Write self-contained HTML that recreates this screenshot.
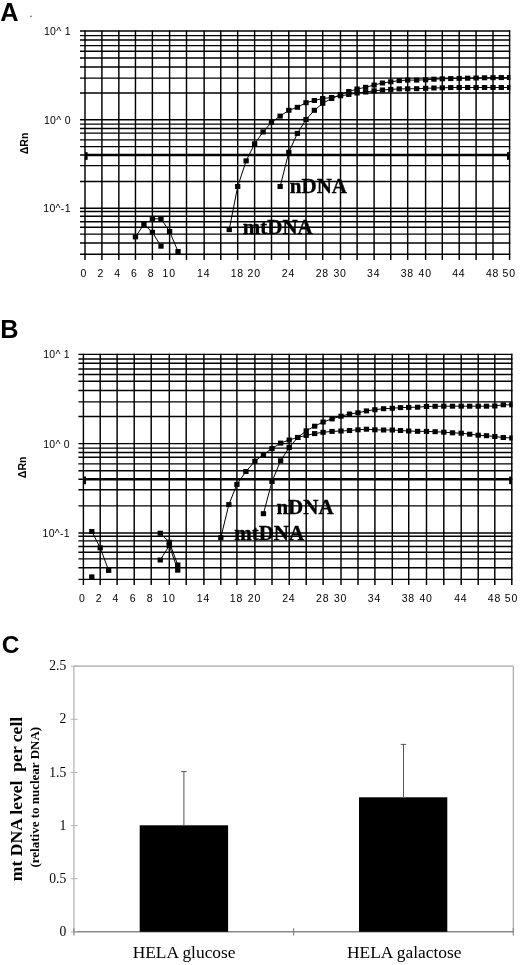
<!DOCTYPE html>
<html><head><meta charset="utf-8"><title>Figure</title>
<style>html,body{margin:0;padding:0;background:#fff;}body{width:520px;height:965px;position:relative;overflow:hidden;}svg{filter:grayscale(1);}</style>
</head><body>
<svg width="520" height="965" viewBox="0 0 520 965" style="position:absolute;left:0;top:0">
<line x1="80" y1="31.05" x2="510.2" y2="31.05" stroke="#000" stroke-width="1.45"/>
<line x1="80" y1="35.6" x2="510.2" y2="35.6" stroke="#000" stroke-width="1.45"/>
<line x1="80" y1="39.97" x2="510.2" y2="39.97" stroke="#000" stroke-width="1.45"/>
<line x1="80" y1="45.6" x2="510.2" y2="45.6" stroke="#000" stroke-width="1.45"/>
<line x1="80" y1="51.3" x2="510.2" y2="51.3" stroke="#000" stroke-width="1.45"/>
<line x1="80" y1="58" x2="510.2" y2="58" stroke="#000" stroke-width="1.45"/>
<line x1="80" y1="66.95" x2="510.2" y2="66.95" stroke="#000" stroke-width="1.45"/>
<line x1="80" y1="78.14" x2="510.2" y2="78.14" stroke="#000" stroke-width="1.45"/>
<line x1="80" y1="92.94" x2="510.2" y2="92.94" stroke="#000" stroke-width="1.45"/>
<line x1="80" y1="119.75" x2="510.2" y2="119.75" stroke="#000" stroke-width="1.45"/>
<line x1="80" y1="124.1" x2="510.2" y2="124.1" stroke="#000" stroke-width="1.45"/>
<line x1="80" y1="128.54" x2="510.2" y2="128.54" stroke="#000" stroke-width="1.45"/>
<line x1="80" y1="133.1" x2="510.2" y2="133.1" stroke="#000" stroke-width="1.45"/>
<line x1="80" y1="139.85" x2="510.2" y2="139.85" stroke="#000" stroke-width="1.45"/>
<line x1="80" y1="146.6" x2="510.2" y2="146.6" stroke="#000" stroke-width="1.45"/>
<line x1="80" y1="154.96" x2="510.2" y2="154.96" stroke="#000" stroke-width="1.45"/>
<line x1="80" y1="165.6" x2="510.2" y2="165.6" stroke="#000" stroke-width="1.45"/>
<line x1="80" y1="181.5" x2="510.2" y2="181.5" stroke="#000" stroke-width="1.45"/>
<line x1="80" y1="208.18" x2="510.2" y2="208.18" stroke="#000" stroke-width="1.45"/>
<line x1="80" y1="211.53" x2="510.2" y2="211.53" stroke="#000" stroke-width="1.45"/>
<line x1="80" y1="216.19" x2="510.2" y2="216.19" stroke="#000" stroke-width="1.45"/>
<line x1="80" y1="221.76" x2="510.2" y2="221.76" stroke="#000" stroke-width="1.45"/>
<line x1="80" y1="227.33" x2="510.2" y2="227.33" stroke="#000" stroke-width="1.45"/>
<line x1="80" y1="234.1" x2="510.2" y2="234.1" stroke="#000" stroke-width="1.45"/>
<line x1="80" y1="243" x2="510.2" y2="243" stroke="#000" stroke-width="1.45"/>
<line x1="80" y1="254.3" x2="510.2" y2="254.3" stroke="#000" stroke-width="1.45"/>
<line x1="85" y1="30.45" x2="85" y2="259.9" stroke="#000" stroke-width="1.45"/>
<line x1="101.9" y1="30.45" x2="101.9" y2="259.9" stroke="#000" stroke-width="1.45"/>
<line x1="118.85" y1="30.45" x2="118.85" y2="259.9" stroke="#000" stroke-width="1.45"/>
<line x1="135.46" y1="30.45" x2="135.46" y2="259.9" stroke="#000" stroke-width="1.45"/>
<line x1="152.38" y1="30.45" x2="152.38" y2="259.9" stroke="#000" stroke-width="1.45"/>
<line x1="169.6" y1="30.45" x2="169.6" y2="259.9" stroke="#000" stroke-width="1.45"/>
<line x1="186.5" y1="30.45" x2="186.5" y2="259.9" stroke="#000" stroke-width="1.45"/>
<line x1="204.15" y1="30.45" x2="204.15" y2="259.9" stroke="#000" stroke-width="1.45"/>
<line x1="220.77" y1="30.45" x2="220.77" y2="259.9" stroke="#000" stroke-width="1.45"/>
<line x1="237.69" y1="30.45" x2="237.69" y2="259.9" stroke="#000" stroke-width="1.45"/>
<line x1="254.6" y1="30.45" x2="254.6" y2="259.9" stroke="#000" stroke-width="1.45"/>
<line x1="271.5" y1="30.45" x2="271.5" y2="259.9" stroke="#000" stroke-width="1.45"/>
<line x1="288.8" y1="30.45" x2="288.8" y2="259.9" stroke="#000" stroke-width="1.45"/>
<line x1="306" y1="30.45" x2="306" y2="259.9" stroke="#000" stroke-width="1.45"/>
<line x1="322.7" y1="30.45" x2="322.7" y2="259.9" stroke="#000" stroke-width="1.45"/>
<line x1="340.5" y1="30.45" x2="340.5" y2="259.9" stroke="#000" stroke-width="1.45"/>
<line x1="357.1" y1="30.45" x2="357.1" y2="259.9" stroke="#000" stroke-width="1.45"/>
<line x1="374.1" y1="30.45" x2="374.1" y2="259.9" stroke="#000" stroke-width="1.45"/>
<line x1="390.77" y1="30.45" x2="390.77" y2="259.9" stroke="#000" stroke-width="1.45"/>
<line x1="407.69" y1="30.45" x2="407.69" y2="259.9" stroke="#000" stroke-width="1.45"/>
<line x1="425.6" y1="30.45" x2="425.6" y2="259.9" stroke="#000" stroke-width="1.45"/>
<line x1="442.3" y1="30.45" x2="442.3" y2="259.9" stroke="#000" stroke-width="1.45"/>
<line x1="459.2" y1="30.45" x2="459.2" y2="259.9" stroke="#000" stroke-width="1.45"/>
<line x1="476.1" y1="30.45" x2="476.1" y2="259.9" stroke="#000" stroke-width="1.45"/>
<line x1="493" y1="30.45" x2="493" y2="259.9" stroke="#000" stroke-width="1.45"/>
<line x1="509.6" y1="30.45" x2="509.6" y2="259.9" stroke="#000" stroke-width="1.45"/>
<line x1="85" y1="154.96" x2="509.6" y2="154.96" stroke="#000" stroke-width="2.6"/>
<rect x="85" y="152.16" width="2.6" height="7.7" fill="#000"/>
<rect x="507" y="152.16" width="2.6" height="7.7" fill="#000"/>
<clipPath id="c31"><rect x="0" y="0" width="510.4" height="965"/></clipPath>
<g clip-path="url(#c31)">
<polyline points="229.23,229.6 237.69,186.5 246.14,160.9 254.6,143.8 263.05,132 271.5,122.3 280.15,116.1 288.8,110.3 297.4,107.3 306,102.7 314.35,100.5 322.7,98.5 331.6,97.5 340.5,95.8 348.8,94.5 357.1,93 365.6,92 374.1,90.8 382.44,90 390.77,89.4 399.23,88.9 407.69,88.8 416.64,88.7 425.6,88.3 433.95,88 442.3,87.8 450.75,87.6 459.2,87.5 467.65,87.5 476.1,87.5 484.55,87.5 493,87.5 501.3,87.5 509.6,87.5" fill="none" stroke="#000" stroke-width="1.0"/>
<rect x="226.58" y="227.1" width="5.3" height="5.0" fill="#000"/>
<rect x="235.04" y="184" width="5.3" height="5.0" fill="#000"/>
<rect x="243.49" y="158.4" width="5.3" height="5.0" fill="#000"/>
<rect x="251.95" y="141.3" width="5.3" height="5.0" fill="#000"/>
<rect x="260.4" y="129.5" width="5.3" height="5.0" fill="#000"/>
<rect x="268.85" y="119.8" width="5.3" height="5.0" fill="#000"/>
<rect x="277.5" y="113.6" width="5.3" height="5.0" fill="#000"/>
<rect x="286.15" y="107.8" width="5.3" height="5.0" fill="#000"/>
<rect x="294.75" y="104.8" width="5.3" height="5.0" fill="#000"/>
<rect x="303.35" y="100.2" width="5.3" height="5.0" fill="#000"/>
<rect x="311.7" y="98" width="5.3" height="5.0" fill="#000"/>
<rect x="320.05" y="96" width="5.3" height="5.0" fill="#000"/>
<rect x="328.95" y="95" width="5.3" height="5.0" fill="#000"/>
<rect x="337.85" y="93.3" width="5.3" height="5.0" fill="#000"/>
<rect x="346.15" y="92" width="5.3" height="5.0" fill="#000"/>
<rect x="354.45" y="90.5" width="5.3" height="5.0" fill="#000"/>
<rect x="362.95" y="89.5" width="5.3" height="5.0" fill="#000"/>
<rect x="371.45" y="88.3" width="5.3" height="5.0" fill="#000"/>
<rect x="379.79" y="87.5" width="5.3" height="5.0" fill="#000"/>
<rect x="388.12" y="86.9" width="5.3" height="5.0" fill="#000"/>
<rect x="396.58" y="86.4" width="5.3" height="5.0" fill="#000"/>
<rect x="405.04" y="86.3" width="5.3" height="5.0" fill="#000"/>
<rect x="414" y="86.2" width="5.3" height="5.0" fill="#000"/>
<rect x="422.95" y="85.8" width="5.3" height="5.0" fill="#000"/>
<rect x="431.3" y="85.5" width="5.3" height="5.0" fill="#000"/>
<rect x="439.65" y="85.3" width="5.3" height="5.0" fill="#000"/>
<rect x="448.1" y="85.1" width="5.3" height="5.0" fill="#000"/>
<rect x="456.55" y="85" width="5.3" height="5.0" fill="#000"/>
<rect x="465" y="85" width="5.3" height="5.0" fill="#000"/>
<rect x="473.45" y="85" width="5.3" height="5.0" fill="#000"/>
<rect x="481.9" y="85" width="5.3" height="5.0" fill="#000"/>
<rect x="490.35" y="85" width="5.3" height="5.0" fill="#000"/>
<rect x="498.65" y="85" width="5.3" height="5.0" fill="#000"/>
<rect x="506.95" y="85" width="5.3" height="5.0" fill="#000"/>
<polyline points="280.15,186.5 288.8,152.3 297.4,133.4 306,119.5 314.35,110.3 322.7,103.3 331.6,98.5 340.5,94.5 348.8,91.5 357.1,89 365.6,87.3 374.1,85 382.44,83 390.77,81.8 399.23,80.6 407.69,80.1 416.64,80.1 425.6,79.8 433.95,79.2 442.3,78.8 450.75,78.6 459.2,78.4 467.65,78.2 476.1,78 484.55,77.8 493,77.7 501.3,77.6 509.6,77.5" fill="none" stroke="#000" stroke-width="1.0"/>
<rect x="277.5" y="184" width="5.3" height="5.0" fill="#000"/>
<rect x="286.15" y="149.8" width="5.3" height="5.0" fill="#000"/>
<rect x="294.75" y="130.9" width="5.3" height="5.0" fill="#000"/>
<rect x="303.35" y="117" width="5.3" height="5.0" fill="#000"/>
<rect x="311.7" y="107.8" width="5.3" height="5.0" fill="#000"/>
<rect x="320.05" y="100.8" width="5.3" height="5.0" fill="#000"/>
<rect x="328.95" y="96" width="5.3" height="5.0" fill="#000"/>
<rect x="337.85" y="92" width="5.3" height="5.0" fill="#000"/>
<rect x="346.15" y="89" width="5.3" height="5.0" fill="#000"/>
<rect x="354.45" y="86.5" width="5.3" height="5.0" fill="#000"/>
<rect x="362.95" y="84.8" width="5.3" height="5.0" fill="#000"/>
<rect x="371.45" y="82.5" width="5.3" height="5.0" fill="#000"/>
<rect x="379.79" y="80.5" width="5.3" height="5.0" fill="#000"/>
<rect x="388.12" y="79.3" width="5.3" height="5.0" fill="#000"/>
<rect x="396.58" y="78.1" width="5.3" height="5.0" fill="#000"/>
<rect x="405.04" y="77.6" width="5.3" height="5.0" fill="#000"/>
<rect x="414" y="77.6" width="5.3" height="5.0" fill="#000"/>
<rect x="422.95" y="77.3" width="5.3" height="5.0" fill="#000"/>
<rect x="431.3" y="76.7" width="5.3" height="5.0" fill="#000"/>
<rect x="439.65" y="76.3" width="5.3" height="5.0" fill="#000"/>
<rect x="448.1" y="76.1" width="5.3" height="5.0" fill="#000"/>
<rect x="456.55" y="75.9" width="5.3" height="5.0" fill="#000"/>
<rect x="465" y="75.7" width="5.3" height="5.0" fill="#000"/>
<rect x="473.45" y="75.5" width="5.3" height="5.0" fill="#000"/>
<rect x="481.9" y="75.3" width="5.3" height="5.0" fill="#000"/>
<rect x="490.35" y="75.2" width="5.3" height="5.0" fill="#000"/>
<rect x="498.65" y="75.1" width="5.3" height="5.0" fill="#000"/>
<rect x="506.95" y="75" width="5.3" height="5.0" fill="#000"/>
<polyline points="135.46,236.9 143.92,224.3 152.38,232.3 160.99,246.2" fill="none" stroke="#000" stroke-width="1.0"/>
<rect x="132.81" y="234.4" width="5.3" height="5.0" fill="#000"/>
<rect x="141.27" y="221.8" width="5.3" height="5.0" fill="#000"/>
<rect x="149.73" y="229.8" width="5.3" height="5.0" fill="#000"/>
<rect x="158.34" y="243.7" width="5.3" height="5.0" fill="#000"/>
<polyline points="152.38,218.8 160.99,218.8 169.6,231.5 178.05,251.5" fill="none" stroke="#000" stroke-width="1.0"/>
<rect x="149.73" y="216.3" width="5.3" height="5.0" fill="#000"/>
<rect x="158.34" y="216.3" width="5.3" height="5.0" fill="#000"/>
<rect x="166.95" y="229" width="5.3" height="5.0" fill="#000"/>
<rect x="175.4" y="249" width="5.3" height="5.0" fill="#000"/>
</g>
<text x="70.8" y="34.95" font-family='"Liberation Sans", sans-serif' font-size="10.5" letter-spacing="0.3" text-anchor="end">10^ 1</text>
<text x="70.8" y="123.65" font-family='"Liberation Sans", sans-serif' font-size="10.5" letter-spacing="0.3" text-anchor="end">10^ 0</text>
<text x="70.8" y="212.08" font-family='"Liberation Sans", sans-serif' font-size="10.5" letter-spacing="0.3" text-anchor="end">10^-1</text>
<text x="83.4" y="277.3" font-family='"Liberation Sans", sans-serif' font-size="10.5" letter-spacing="0" text-anchor="middle">0</text>
<text x="100.3" y="277.3" font-family='"Liberation Sans", sans-serif' font-size="10.5" letter-spacing="0" text-anchor="middle">2</text>
<text x="117.25" y="277.3" font-family='"Liberation Sans", sans-serif' font-size="10.5" letter-spacing="0" text-anchor="middle">4</text>
<text x="133.86" y="277.3" font-family='"Liberation Sans", sans-serif' font-size="10.5" letter-spacing="0" text-anchor="middle">6</text>
<text x="150.78" y="277.3" font-family='"Liberation Sans", sans-serif' font-size="10.5" letter-spacing="0" text-anchor="middle">8</text>
<text x="169.2" y="277.3" font-family='"Liberation Sans", sans-serif' font-size="10.5" letter-spacing="0.8" text-anchor="middle">10</text>
<text x="203.75" y="277.3" font-family='"Liberation Sans", sans-serif' font-size="10.5" letter-spacing="0.8" text-anchor="middle">14</text>
<text x="237.29" y="277.3" font-family='"Liberation Sans", sans-serif' font-size="10.5" letter-spacing="0.8" text-anchor="middle">18</text>
<text x="254.2" y="277.3" font-family='"Liberation Sans", sans-serif' font-size="10.5" letter-spacing="0.8" text-anchor="middle">20</text>
<text x="288.4" y="277.3" font-family='"Liberation Sans", sans-serif' font-size="10.5" letter-spacing="0.8" text-anchor="middle">24</text>
<text x="322.3" y="277.3" font-family='"Liberation Sans", sans-serif' font-size="10.5" letter-spacing="0.8" text-anchor="middle">28</text>
<text x="340.1" y="277.3" font-family='"Liberation Sans", sans-serif' font-size="10.5" letter-spacing="0.8" text-anchor="middle">30</text>
<text x="373.7" y="277.3" font-family='"Liberation Sans", sans-serif' font-size="10.5" letter-spacing="0.8" text-anchor="middle">34</text>
<text x="407.29" y="277.3" font-family='"Liberation Sans", sans-serif' font-size="10.5" letter-spacing="0.8" text-anchor="middle">38</text>
<text x="425.2" y="277.3" font-family='"Liberation Sans", sans-serif' font-size="10.5" letter-spacing="0.8" text-anchor="middle">40</text>
<text x="458.8" y="277.3" font-family='"Liberation Sans", sans-serif' font-size="10.5" letter-spacing="0.8" text-anchor="middle">44</text>
<text x="492.6" y="277.3" font-family='"Liberation Sans", sans-serif' font-size="10.5" letter-spacing="0.8" text-anchor="middle">48</text>
<text x="509.2" y="277.3" font-family='"Liberation Sans", sans-serif' font-size="10.5" letter-spacing="0.8" text-anchor="middle">50</text>
<text x="0.3" y="20.6" font-family='"Liberation Sans", sans-serif' font-weight="bold" font-size="25.3">A</text>
<text transform="translate(24.1,143.4) rotate(-90)" x="0" y="3.4" font-family='"Liberation Sans", sans-serif' font-weight="bold" font-size="10.6" text-anchor="middle">&#916;Rn</text>
<circle cx="31" cy="16.4" r="0.8" fill="#666"/>
<text x="289.8" y="192.6" font-family='"Liberation Serif", serif' font-weight="bold" font-size="21" stroke="#000" stroke-width="0.35">nDNA</text>
<text x="242.8" y="233.9" font-family='"Liberation Serif", serif' font-weight="bold" font-size="21" stroke="#000" stroke-width="0.35">mtDNA</text>
<line x1="78.4" y1="354.35" x2="512.4" y2="354.35" stroke="#000" stroke-width="1.45"/>
<line x1="78.4" y1="358.92" x2="512.4" y2="358.92" stroke="#000" stroke-width="1.45"/>
<line x1="78.4" y1="363.27" x2="512.4" y2="363.27" stroke="#000" stroke-width="1.45"/>
<line x1="78.4" y1="368.93" x2="512.4" y2="368.93" stroke="#000" stroke-width="1.45"/>
<line x1="78.4" y1="374.59" x2="512.4" y2="374.59" stroke="#000" stroke-width="1.45"/>
<line x1="78.4" y1="381.33" x2="512.4" y2="381.33" stroke="#000" stroke-width="1.45"/>
<line x1="78.4" y1="390.5" x2="512.4" y2="390.5" stroke="#000" stroke-width="1.45"/>
<line x1="78.4" y1="401.88" x2="512.4" y2="401.88" stroke="#000" stroke-width="1.45"/>
<line x1="78.4" y1="416.46" x2="512.4" y2="416.46" stroke="#000" stroke-width="1.45"/>
<line x1="78.4" y1="443.62" x2="512.4" y2="443.62" stroke="#000" stroke-width="1.45"/>
<line x1="78.4" y1="448.1" x2="512.4" y2="448.1" stroke="#000" stroke-width="1.45"/>
<line x1="78.4" y1="452.54" x2="512.4" y2="452.54" stroke="#000" stroke-width="1.45"/>
<line x1="78.4" y1="457.32" x2="512.4" y2="457.32" stroke="#000" stroke-width="1.45"/>
<line x1="78.4" y1="463.85" x2="512.4" y2="463.85" stroke="#000" stroke-width="1.45"/>
<line x1="78.4" y1="470.81" x2="512.4" y2="470.81" stroke="#000" stroke-width="1.45"/>
<line x1="78.4" y1="479.31" x2="512.4" y2="479.31" stroke="#000" stroke-width="1.45"/>
<line x1="78.4" y1="489.84" x2="512.4" y2="489.84" stroke="#000" stroke-width="1.45"/>
<line x1="78.4" y1="505.86" x2="512.4" y2="505.86" stroke="#000" stroke-width="1.45"/>
<line x1="78.4" y1="532.92" x2="512.4" y2="532.92" stroke="#000" stroke-width="1.45"/>
<line x1="78.4" y1="536.27" x2="512.4" y2="536.27" stroke="#000" stroke-width="1.45"/>
<line x1="78.4" y1="540.88" x2="512.4" y2="540.88" stroke="#000" stroke-width="1.45"/>
<line x1="78.4" y1="546.41" x2="512.4" y2="546.41" stroke="#000" stroke-width="1.45"/>
<line x1="78.4" y1="552.2" x2="512.4" y2="552.2" stroke="#000" stroke-width="1.45"/>
<line x1="78.4" y1="558.85" x2="512.4" y2="558.85" stroke="#000" stroke-width="1.45"/>
<line x1="78.4" y1="567.84" x2="512.4" y2="567.84" stroke="#000" stroke-width="1.45"/>
<line x1="78.4" y1="579.37" x2="512.4" y2="579.37" stroke="#000" stroke-width="1.45"/>
<line x1="83.4" y1="353.75" x2="83.4" y2="584.97" stroke="#000" stroke-width="1.45"/>
<line x1="100.2" y1="353.75" x2="100.2" y2="584.97" stroke="#000" stroke-width="1.45"/>
<line x1="117.1" y1="353.75" x2="117.1" y2="584.97" stroke="#000" stroke-width="1.45"/>
<line x1="134.2" y1="353.75" x2="134.2" y2="584.97" stroke="#000" stroke-width="1.45"/>
<line x1="151.2" y1="353.75" x2="151.2" y2="584.97" stroke="#000" stroke-width="1.45"/>
<line x1="169.3" y1="353.75" x2="169.3" y2="584.97" stroke="#000" stroke-width="1.45"/>
<line x1="186.2" y1="353.75" x2="186.2" y2="584.97" stroke="#000" stroke-width="1.45"/>
<line x1="203.9" y1="353.75" x2="203.9" y2="584.97" stroke="#000" stroke-width="1.45"/>
<line x1="220.8" y1="353.75" x2="220.8" y2="584.97" stroke="#000" stroke-width="1.45"/>
<line x1="236.9" y1="353.75" x2="236.9" y2="584.97" stroke="#000" stroke-width="1.45"/>
<line x1="254.9" y1="353.75" x2="254.9" y2="584.97" stroke="#000" stroke-width="1.45"/>
<line x1="272" y1="353.75" x2="272" y2="584.97" stroke="#000" stroke-width="1.45"/>
<line x1="289.2" y1="353.75" x2="289.2" y2="584.97" stroke="#000" stroke-width="1.45"/>
<line x1="306.2" y1="353.75" x2="306.2" y2="584.97" stroke="#000" stroke-width="1.45"/>
<line x1="323.1" y1="353.75" x2="323.1" y2="584.97" stroke="#000" stroke-width="1.45"/>
<line x1="341" y1="353.75" x2="341" y2="584.97" stroke="#000" stroke-width="1.45"/>
<line x1="358" y1="353.75" x2="358" y2="584.97" stroke="#000" stroke-width="1.45"/>
<line x1="374.9" y1="353.75" x2="374.9" y2="584.97" stroke="#000" stroke-width="1.45"/>
<line x1="392.3" y1="353.75" x2="392.3" y2="584.97" stroke="#000" stroke-width="1.45"/>
<line x1="408.7" y1="353.75" x2="408.7" y2="584.97" stroke="#000" stroke-width="1.45"/>
<line x1="426.5" y1="353.75" x2="426.5" y2="584.97" stroke="#000" stroke-width="1.45"/>
<line x1="443.8" y1="353.75" x2="443.8" y2="584.97" stroke="#000" stroke-width="1.45"/>
<line x1="461.2" y1="353.75" x2="461.2" y2="584.97" stroke="#000" stroke-width="1.45"/>
<line x1="478.2" y1="353.75" x2="478.2" y2="584.97" stroke="#000" stroke-width="1.45"/>
<line x1="494.8" y1="353.75" x2="494.8" y2="584.97" stroke="#000" stroke-width="1.45"/>
<line x1="511.8" y1="353.75" x2="511.8" y2="584.97" stroke="#000" stroke-width="1.45"/>
<line x1="83.4" y1="479.31" x2="511.8" y2="479.31" stroke="#000" stroke-width="2.6"/>
<rect x="83.4" y="476.51" width="2.6" height="7.7" fill="#000"/>
<rect x="509.2" y="476.51" width="2.6" height="7.7" fill="#000"/>
<clipPath id="c354"><rect x="0" y="0" width="512.6" height="965"/></clipPath>
<g clip-path="url(#c354)">
<polyline points="220.8,537.7 228.85,504.6 236.9,484.4 245.9,471.5 254.9,461.3 263.45,454.6 272,448.5 280.6,443.1 289.2,440 297.7,437.4 306.2,435.4 314.65,433.6 323.1,432.3 332.05,431.4 341,431 349.5,430.5 358,429.8 366.45,429.2 374.9,429.8 383.6,430 392.3,430 400.5,430.5 408.7,431 417.6,431.3 426.5,431.4 435.15,431.7 443.8,432.2 452.5,432.8 461.2,433.2 469.7,434.2 478.2,435.2 486.5,435.7 494.8,436.5 503.3,437.5 511.8,438" fill="none" stroke="#000" stroke-width="1.0"/>
<rect x="218.15" y="535.2" width="5.3" height="5.0" fill="#000"/>
<rect x="226.2" y="502.1" width="5.3" height="5.0" fill="#000"/>
<rect x="234.25" y="481.9" width="5.3" height="5.0" fill="#000"/>
<rect x="243.25" y="469" width="5.3" height="5.0" fill="#000"/>
<rect x="252.25" y="458.8" width="5.3" height="5.0" fill="#000"/>
<rect x="260.8" y="452.1" width="5.3" height="5.0" fill="#000"/>
<rect x="269.35" y="446" width="5.3" height="5.0" fill="#000"/>
<rect x="277.95" y="440.6" width="5.3" height="5.0" fill="#000"/>
<rect x="286.55" y="437.5" width="5.3" height="5.0" fill="#000"/>
<rect x="295.05" y="434.9" width="5.3" height="5.0" fill="#000"/>
<rect x="303.55" y="432.9" width="5.3" height="5.0" fill="#000"/>
<rect x="312" y="431.1" width="5.3" height="5.0" fill="#000"/>
<rect x="320.45" y="429.8" width="5.3" height="5.0" fill="#000"/>
<rect x="329.4" y="428.9" width="5.3" height="5.0" fill="#000"/>
<rect x="338.35" y="428.5" width="5.3" height="5.0" fill="#000"/>
<rect x="346.85" y="428" width="5.3" height="5.0" fill="#000"/>
<rect x="355.35" y="427.3" width="5.3" height="5.0" fill="#000"/>
<rect x="363.8" y="426.7" width="5.3" height="5.0" fill="#000"/>
<rect x="372.25" y="427.3" width="5.3" height="5.0" fill="#000"/>
<rect x="380.95" y="427.5" width="5.3" height="5.0" fill="#000"/>
<rect x="389.65" y="427.5" width="5.3" height="5.0" fill="#000"/>
<rect x="397.85" y="428" width="5.3" height="5.0" fill="#000"/>
<rect x="406.05" y="428.5" width="5.3" height="5.0" fill="#000"/>
<rect x="414.95" y="428.8" width="5.3" height="5.0" fill="#000"/>
<rect x="423.85" y="428.9" width="5.3" height="5.0" fill="#000"/>
<rect x="432.5" y="429.2" width="5.3" height="5.0" fill="#000"/>
<rect x="441.15" y="429.7" width="5.3" height="5.0" fill="#000"/>
<rect x="449.85" y="430.3" width="5.3" height="5.0" fill="#000"/>
<rect x="458.55" y="430.7" width="5.3" height="5.0" fill="#000"/>
<rect x="467.05" y="431.7" width="5.3" height="5.0" fill="#000"/>
<rect x="475.55" y="432.7" width="5.3" height="5.0" fill="#000"/>
<rect x="483.85" y="433.2" width="5.3" height="5.0" fill="#000"/>
<rect x="492.15" y="434" width="5.3" height="5.0" fill="#000"/>
<rect x="500.65" y="435" width="5.3" height="5.0" fill="#000"/>
<rect x="509.15" y="435.5" width="5.3" height="5.0" fill="#000"/>
<polyline points="263.45,513.7 272,481.5 280.6,460.8 289.2,447.5 297.7,437.5 306.2,430.8 314.65,426.2 323.1,422 332.05,418.9 341,416.2 349.5,414 358,412.8 366.45,410.9 374.9,409.7 383.6,408.7 392.3,408.3 400.5,407.6 408.7,407.4 417.6,407.2 426.5,406.5 435.15,406.3 443.8,406.2 452.5,406.2 461.2,406.2 469.7,406.2 478.2,406.2 486.5,406.2 494.8,406 503.3,404.8 511.8,404.8" fill="none" stroke="#000" stroke-width="1.0"/>
<rect x="260.8" y="511.2" width="5.3" height="5.0" fill="#000"/>
<rect x="269.35" y="479" width="5.3" height="5.0" fill="#000"/>
<rect x="277.95" y="458.3" width="5.3" height="5.0" fill="#000"/>
<rect x="286.55" y="445" width="5.3" height="5.0" fill="#000"/>
<rect x="295.05" y="435" width="5.3" height="5.0" fill="#000"/>
<rect x="303.55" y="428.3" width="5.3" height="5.0" fill="#000"/>
<rect x="312" y="423.7" width="5.3" height="5.0" fill="#000"/>
<rect x="320.45" y="419.5" width="5.3" height="5.0" fill="#000"/>
<rect x="329.4" y="416.4" width="5.3" height="5.0" fill="#000"/>
<rect x="338.35" y="413.7" width="5.3" height="5.0" fill="#000"/>
<rect x="346.85" y="411.5" width="5.3" height="5.0" fill="#000"/>
<rect x="355.35" y="410.3" width="5.3" height="5.0" fill="#000"/>
<rect x="363.8" y="408.4" width="5.3" height="5.0" fill="#000"/>
<rect x="372.25" y="407.2" width="5.3" height="5.0" fill="#000"/>
<rect x="380.95" y="406.2" width="5.3" height="5.0" fill="#000"/>
<rect x="389.65" y="405.8" width="5.3" height="5.0" fill="#000"/>
<rect x="397.85" y="405.1" width="5.3" height="5.0" fill="#000"/>
<rect x="406.05" y="404.9" width="5.3" height="5.0" fill="#000"/>
<rect x="414.95" y="404.7" width="5.3" height="5.0" fill="#000"/>
<rect x="423.85" y="404" width="5.3" height="5.0" fill="#000"/>
<rect x="432.5" y="403.8" width="5.3" height="5.0" fill="#000"/>
<rect x="441.15" y="403.7" width="5.3" height="5.0" fill="#000"/>
<rect x="449.85" y="403.7" width="5.3" height="5.0" fill="#000"/>
<rect x="458.55" y="403.7" width="5.3" height="5.0" fill="#000"/>
<rect x="467.05" y="403.7" width="5.3" height="5.0" fill="#000"/>
<rect x="475.55" y="403.7" width="5.3" height="5.0" fill="#000"/>
<rect x="483.85" y="403.7" width="5.3" height="5.0" fill="#000"/>
<rect x="492.15" y="403.5" width="5.3" height="5.0" fill="#000"/>
<rect x="500.65" y="402.3" width="5.3" height="5.0" fill="#000"/>
<rect x="509.15" y="402.3" width="5.3" height="5.0" fill="#000"/>
<polyline points="91.8,531.5 100.2,547.8 108.65,570.4" fill="none" stroke="#000" stroke-width="1.0"/>
<rect x="89.15" y="529" width="5.3" height="5.0" fill="#000"/>
<rect x="97.55" y="545.3" width="5.3" height="5.0" fill="#000"/>
<rect x="106" y="567.9" width="5.3" height="5.0" fill="#000"/>
<polyline points="91.8,576.9" fill="none" stroke="#000" stroke-width="1.0"/>
<rect x="89.15" y="574.4" width="5.3" height="5.0" fill="#000"/>
<polyline points="160.25,533.2 169.3,542.2 177.75,565" fill="none" stroke="#000" stroke-width="1.0"/>
<rect x="157.6" y="530.7" width="5.3" height="5.0" fill="#000"/>
<rect x="166.65" y="539.7" width="5.3" height="5.0" fill="#000"/>
<rect x="175.1" y="562.5" width="5.3" height="5.0" fill="#000"/>
<polyline points="160.25,560 169.3,545.5 177.75,570.2" fill="none" stroke="#000" stroke-width="1.0"/>
<rect x="157.6" y="557.5" width="5.3" height="5.0" fill="#000"/>
<rect x="166.65" y="543" width="5.3" height="5.0" fill="#000"/>
<rect x="175.1" y="567.7" width="5.3" height="5.0" fill="#000"/>
</g>
<text x="70" y="358.25" font-family='"Liberation Sans", sans-serif' font-size="10.5" letter-spacing="0.3" text-anchor="end">10^ 1</text>
<text x="70" y="447.52" font-family='"Liberation Sans", sans-serif' font-size="10.5" letter-spacing="0.3" text-anchor="end">10^ 0</text>
<text x="70" y="536.82" font-family='"Liberation Sans", sans-serif' font-size="10.5" letter-spacing="0.3" text-anchor="end">10^-1</text>
<text x="81.8" y="602.4" font-family='"Liberation Sans", sans-serif' font-size="10.5" letter-spacing="0" text-anchor="middle">0</text>
<text x="98.6" y="602.4" font-family='"Liberation Sans", sans-serif' font-size="10.5" letter-spacing="0" text-anchor="middle">2</text>
<text x="115.5" y="602.4" font-family='"Liberation Sans", sans-serif' font-size="10.5" letter-spacing="0" text-anchor="middle">4</text>
<text x="132.6" y="602.4" font-family='"Liberation Sans", sans-serif' font-size="10.5" letter-spacing="0" text-anchor="middle">6</text>
<text x="149.6" y="602.4" font-family='"Liberation Sans", sans-serif' font-size="10.5" letter-spacing="0" text-anchor="middle">8</text>
<text x="168.9" y="602.4" font-family='"Liberation Sans", sans-serif' font-size="10.5" letter-spacing="0.8" text-anchor="middle">10</text>
<text x="203.5" y="602.4" font-family='"Liberation Sans", sans-serif' font-size="10.5" letter-spacing="0.8" text-anchor="middle">14</text>
<text x="236.5" y="602.4" font-family='"Liberation Sans", sans-serif' font-size="10.5" letter-spacing="0.8" text-anchor="middle">18</text>
<text x="254.5" y="602.4" font-family='"Liberation Sans", sans-serif' font-size="10.5" letter-spacing="0.8" text-anchor="middle">20</text>
<text x="288.8" y="602.4" font-family='"Liberation Sans", sans-serif' font-size="10.5" letter-spacing="0.8" text-anchor="middle">24</text>
<text x="322.7" y="602.4" font-family='"Liberation Sans", sans-serif' font-size="10.5" letter-spacing="0.8" text-anchor="middle">28</text>
<text x="340.6" y="602.4" font-family='"Liberation Sans", sans-serif' font-size="10.5" letter-spacing="0.8" text-anchor="middle">30</text>
<text x="374.5" y="602.4" font-family='"Liberation Sans", sans-serif' font-size="10.5" letter-spacing="0.8" text-anchor="middle">34</text>
<text x="408.3" y="602.4" font-family='"Liberation Sans", sans-serif' font-size="10.5" letter-spacing="0.8" text-anchor="middle">38</text>
<text x="426.1" y="602.4" font-family='"Liberation Sans", sans-serif' font-size="10.5" letter-spacing="0.8" text-anchor="middle">40</text>
<text x="460.8" y="602.4" font-family='"Liberation Sans", sans-serif' font-size="10.5" letter-spacing="0.8" text-anchor="middle">44</text>
<text x="494.4" y="602.4" font-family='"Liberation Sans", sans-serif' font-size="10.5" letter-spacing="0.8" text-anchor="middle">48</text>
<text x="511.4" y="602.4" font-family='"Liberation Sans", sans-serif' font-size="10.5" letter-spacing="0.8" text-anchor="middle">50</text>
<text x="0.3" y="337.9" font-family='"Liberation Sans", sans-serif' font-weight="bold" font-size="25.3">B</text>
<text transform="translate(22.2,467.3) rotate(-90)" x="0" y="3.4" font-family='"Liberation Sans", sans-serif' font-weight="bold" font-size="10.6" text-anchor="middle">&#916;Rn</text>
<text x="276.4" y="513.8" font-family='"Liberation Serif", serif' font-weight="bold" font-size="21" stroke="#000" stroke-width="0.35">nDNA</text>
<text x="234.2" y="540.4" font-family='"Liberation Serif", serif' font-weight="bold" font-size="21" stroke="#000" stroke-width="0.35">mtDNA</text>
<text x="1.8" y="653" font-family='"Liberation Sans", sans-serif' font-weight="bold" font-size="24.5">C</text>
<line x1="73.9" y1="666.2" x2="513.3" y2="666.2" stroke="#a8a8a8" stroke-width="1.2"/>
<line x1="513.3" y1="666.2" x2="513.3" y2="931.8" stroke="#a8a8a8" stroke-width="1.2"/>
<line x1="73.9" y1="666.2" x2="73.9" y2="931.8" stroke="#b0b0b0" stroke-width="1.2"/>
<line x1="73.9" y1="931.8" x2="513.3" y2="931.8" stroke="#8a8a8a" stroke-width="1.4"/>
<line x1="70.8" y1="931.8" x2="77.6" y2="931.8" stroke="#b4b4b4" stroke-width="1"/>
<text x="66.2" y="935.9" font-family='"Liberation Serif", serif' font-size="13.6" text-anchor="end">0</text>
<line x1="70.8" y1="878.68" x2="77.6" y2="878.68" stroke="#b4b4b4" stroke-width="1"/>
<text x="66.2" y="882.78" font-family='"Liberation Serif", serif' font-size="13.6" text-anchor="end">0.5</text>
<line x1="70.8" y1="825.56" x2="77.6" y2="825.56" stroke="#b4b4b4" stroke-width="1"/>
<text x="66.2" y="829.66" font-family='"Liberation Serif", serif' font-size="13.6" text-anchor="end">1</text>
<line x1="70.8" y1="772.44" x2="77.6" y2="772.44" stroke="#b4b4b4" stroke-width="1"/>
<text x="66.2" y="776.54" font-family='"Liberation Serif", serif' font-size="13.6" text-anchor="end">1.5</text>
<line x1="70.8" y1="719.32" x2="77.6" y2="719.32" stroke="#b4b4b4" stroke-width="1"/>
<text x="66.2" y="723.42" font-family='"Liberation Serif", serif' font-size="13.6" text-anchor="end">2</text>
<line x1="70.8" y1="666.2" x2="77.6" y2="666.2" stroke="#b4b4b4" stroke-width="1"/>
<text x="66.2" y="670.3" font-family='"Liberation Serif", serif' font-size="13.6" text-anchor="end">2.5</text>
<line x1="73.9" y1="928.1999999999999" x2="73.9" y2="935.5999999999999" stroke="#888" stroke-width="1.2"/>
<line x1="293.6" y1="928.1999999999999" x2="293.6" y2="935.5999999999999" stroke="#888" stroke-width="1.2"/>
<line x1="513.3" y1="928.1999999999999" x2="513.3" y2="935.5999999999999" stroke="#888" stroke-width="1.2"/>
<rect x="139.7" y="825.3" width="88.4" height="106.5" fill="#000"/>
<rect x="359.0" y="797.3" width="88.3" height="134.5" fill="#000"/>
<line x1="183.9" y1="771.6" x2="183.9" y2="825.3" stroke="#555" stroke-width="1"/>
<line x1="181.2" y1="771.6" x2="186.6" y2="771.6" stroke="#555" stroke-width="1"/>
<line x1="403.5" y1="744.4" x2="403.5" y2="797.3" stroke="#555" stroke-width="1"/>
<line x1="400.8" y1="744.4" x2="406.2" y2="744.4" stroke="#555" stroke-width="1"/>
<text x="184.1" y="957.9" font-family='"Liberation Serif", serif' font-size="17.4" text-anchor="middle">HELA glucose</text>
<text x="404.2" y="957.9" font-family='"Liberation Serif", serif' font-size="17.4" text-anchor="middle">HELA galactose</text>
<text transform="translate(22,799) rotate(-90)" x="0" y="0" font-family='"Liberation Serif", serif' font-weight="bold" font-size="17.6" text-anchor="middle" xml:space="preserve">mt DNA level  per cell</text>
<text transform="translate(39.4,797.2) rotate(-90)" x="0" y="0" font-family='"Liberation Serif", serif' font-weight="bold" font-size="13" text-anchor="middle">(relative to nuclear DNA)</text>
</svg>
</body></html>
